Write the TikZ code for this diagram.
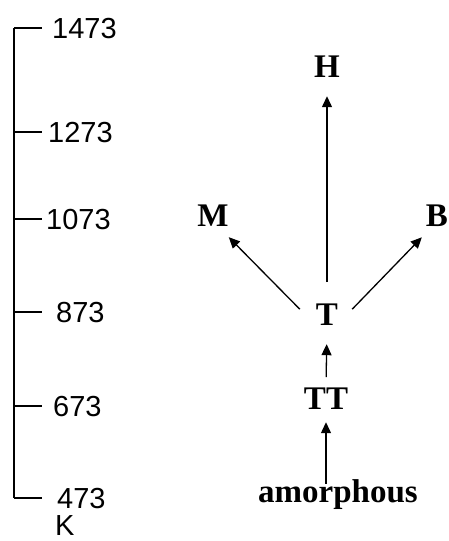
\documentclass[tikz,border=0pt]{standalone}
\usepackage{fontspec}
\setmainfont{Liberation Serif}
\newfontfamily\axisfont{Liberation Sans}
\usetikzlibrary{arrows.meta}

\tikzset{
  phase/.style={font=\fontsize{33}{33}\selectfont\bfseries, inner sep=0pt, anchor=base},
  temp/.style={font=\axisfont\fontsize{29}{29}\selectfont, inner sep=0pt, anchor=base west},
  trans/.style={-{Triangle[length=11pt,width=10pt]}, line width=1.3pt}
}

\begin{document}
\begin{tikzpicture}[x=1pt,y=-1pt]
  \useasboundingbox (0,0) rectangle (449,541);
  % temperature scale
  \coordinate (ktop) at (14,28);
  \coordinate (kbot) at (14,498);
  \draw[line width=2pt] (ktop) -- (kbot);
  \foreach \y/\t/\lx in {28/1473/52,132/1273/48,219/1073/46,312/873/56,406/673/53,498/473/57}{
    \coordinate (tick\t) at (14,\y);
    \draw[line width=1.6pt] (tick\t) -- ++(28,0);
    \node[temp] (lab\t) at (\lx,\y+10) {\t};
  }
  \node[temp] (unit) at (55,535) {K};
  % phases
  \node[phase] (H) at (327,77) {H};
  \node[phase] (M) at (213,226) {M};
  \node[phase] (B) at (437,226) {B};
  \node[phase] (T) at (327,325) {T};
  \node[phase] (TT) at (326,409) {TT};
  \node[phase] (amorphous) at (338,502) {amorphous};
  \draw[trans, shorten <=-5pt, shorten >=13pt] (amorphous.north -| TT) -- (TT.south);
  \draw[trans, shorten <=10pt, shorten >=19pt] (TT.north) -- (T.south);
  \draw[trans, shorten <=21pt, shorten >=19pt] (T.north) -- (H.south);
  \draw[trans] ([shift={(-16,-5)}]T.west) -- ([shift={(0,11)}]M.south east);
  \draw[trans] ([shift={(14,-5)}]T.east) -- ([shift={(-4,11)}]B.south west);
\end{tikzpicture}
\end{document}
